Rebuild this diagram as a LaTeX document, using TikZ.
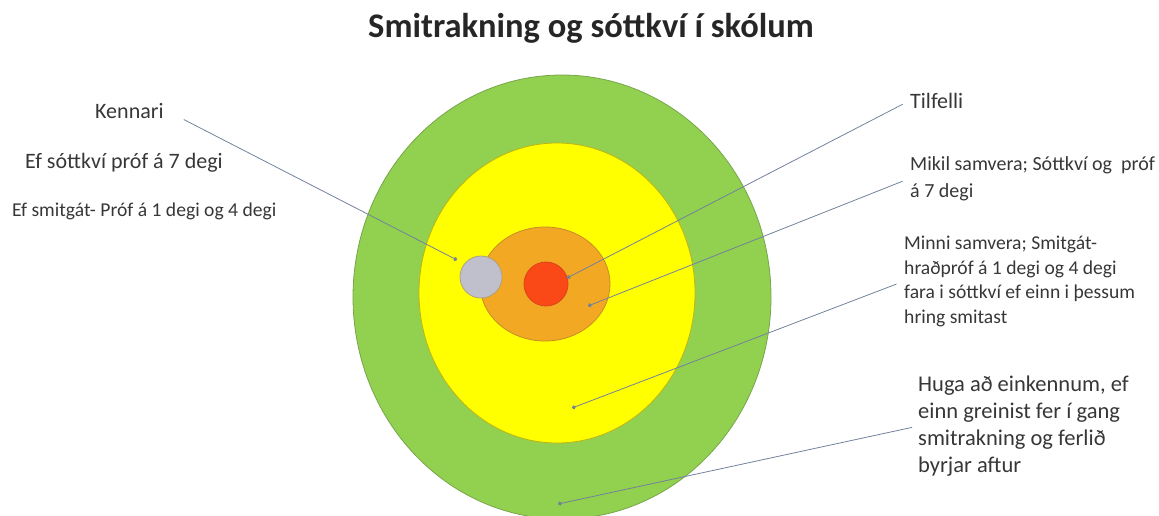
\documentclass[tikz,border=0pt]{standalone}
\usepackage{fontspec}
\setmainfont{Carlito}
\usetikzlibrary{arrows.meta,positioning,calc,shapes.geometric}

\definecolor{ringgreen}{RGB}{146,208,80}
\definecolor{ringgreenline}{RGB}{120,165,75}
\definecolor{ringyellow}{RGB}{255,255,0}
\definecolor{ringyellowline}{RGB}{190,180,20}
\definecolor{ringorange}{RGB}{242,168,34}
\definecolor{ringorangeline}{RGB}{200,140,40}
\definecolor{ringred}{RGB}{250,72,22}
\definecolor{ringredline}{RGB}{215,70,30}
\definecolor{ringgrey}{RGB}{192,192,204}
\definecolor{ringgreyline}{RGB}{175,160,130}
\definecolor{lineblue}{RGB}{115,130,155}
\definecolor{txtgrey}{RGB}{55,55,55}

\begin{document}
\begin{tikzpicture}[
    x=1pt,y=-1pt,
    >={Circle[length=4pt]},
    ring/.style={ellipse,draw,line width=0.8pt,inner sep=0pt},
    lbl/.style={anchor=base west,inner sep=0pt,align=left,text=txtgrey},
    callout/.style={->,draw=lineblue,line width=0.8pt,shorten <=8pt},
]
\useasboundingbox (0,0) rectangle (1159,515);

% title
\node[anchor=base,font=\bfseries\fontsize{34.5}{40}\selectfont,text=black!85] (title) at (591,37)
    {Smitrakning og sóttkví í skólum};

% the rings, outside in
\node[ring,fill=ringgreen,draw=ringgreenline,minimum width=418pt,minimum height=444pt] (green) at (562,297) {};
\node[ring,fill=ringyellow,draw=ringyellowline,minimum width=276pt,minimum height=300pt] (yellow) at (557,293) {};
\node[ring,fill=ringorange,draw=ringorangeline,minimum width=130pt,minimum height=114pt] (orange) at (545,284) {};
\node[ring,circle,fill=ringred,draw=ringredline,minimum size=44pt] (red) at (546,284) {};
\node[ring,circle,fill=ringgrey,draw=ringgreyline,minimum size=42pt] (grey) at (481,277) {};

% where the callouts end
\coordinate (kennariDot) at (457,260);
\coordinate (tilfelliDot) at (567,278);
\coordinate (mikilDot) at (588,306);
\coordinate (minniDot) at (572,408);
\coordinate (hugaDot) at (558,504);

% left side
\node[lbl,font=\fontsize{22}{27}\selectfont] (kennari) at (95,118) {Kennari};
\node[lbl,font=\fontsize{22}{27}\selectfont] (efsottkvi) at (25,168) {Ef sóttkví próf á 7 degi};
\node[lbl,font=\fontsize{19.6}{24}\selectfont] (efsmitgat) at (12,216) {Ef smitgát- Próf á 1 degi og 4 degi};

% right side (base = last line)
\node[lbl,font=\fontsize{22}{27}\selectfont] (tilfelli) at (910,108) {Tilfelli};
\node[lbl,font=\fontsize{20}{27}\selectfont] (mikil) at (910,197)
    {Mikil samvera; Sóttkví og \ próf\\á 7 degi};
\node[lbl,font=\fontsize{19.6}{24.5}\selectfont] (minni) at (904,323)
    {Minni samvera; Smitgát-\\hraðpróf á 1 degi og 4 degi\\fara i sóttkví ef einn i þessum\\hring smitast};
\node[lbl,font=\fontsize{22.5}{26.7}\selectfont] (huga) at (918,472)
    {Huga að einkennum, ef\\einn greinist fer í gang\\smitrakning og ferlið\\byrjar aftur};

% callouts
\draw[callout,shorten <=0pt] ($(kennari.east)+(20,9)$) -- (kennariDot);
\draw[callout] (tilfelli.west) -- (tilfelliDot);
\draw[callout] (mikil.west) -- (mikilDot);
\draw[callout] (minni.west) -- (minniDot);
\draw[callout,shorten <=6pt] (huga.west) -- (hugaDot);

\end{tikzpicture}
\end{document}
